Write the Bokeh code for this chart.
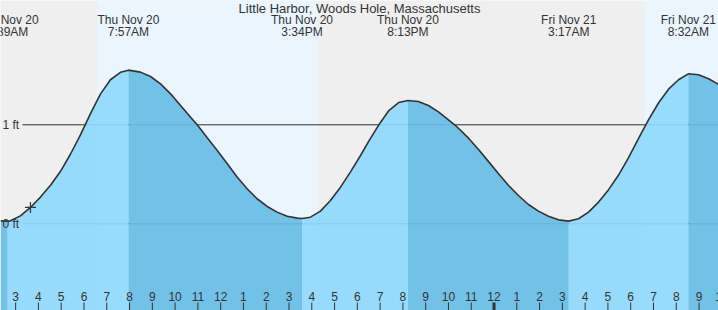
from bokeh.plotting import figure
from bokeh.models import Range1d, ColumnDataSource
from bokeh.core.properties import value
from bokeh.embed import file_html
from bokeh.resources import INLINE

# ---------------- data (hours since Thu Nov 20 00:00, heights in ft) ----------------
title_text = "Little Harbor, Woods Hole, Massachusetts"

tide_times = [2.34, 2.65, 2.77, 3.21, 3.65, 4.09, 4.53, 4.97, 5.41, 5.85, 6.29, 6.72,
              7.16, 7.60, 7.95, 8.48, 8.92, 9.36, 9.80, 10.24, 10.68, 10.97, 11.41,
              11.85, 12.29, 12.73, 13.16, 13.60, 14.04, 14.48, 14.92, 15.36, 15.57,
              15.94, 16.38, 16.82, 17.26, 17.70, 18.14, 18.49, 18.93, 19.37, 19.81,
              20.22, 20.68, 21.12, 21.56, 22.00, 22.30, 22.88, 23.32, 23.76, 24.20,
              24.64, 25.07, 25.51, 25.95, 26.39, 26.83, 27.28, 27.71, 28.15, 28.59,
              29.03, 29.46, 29.90, 30.34, 30.78, 31.22, 31.66, 32.10, 32.53, 32.98,
              33.42, 33.86]
tide_heights = [0.030, 0.027, 0.030, 0.080, 0.165, 0.270, 0.390, 0.530, 0.705, 0.900,
                1.115, 1.310, 1.455, 1.530, 1.552, 1.532, 1.488, 1.414, 1.313, 1.195,
                1.077, 1.000, 0.869, 0.741, 0.606, 0.471, 0.354, 0.253, 0.175, 0.118,
                0.077, 0.057, 0.054, 0.067, 0.128, 0.236, 0.370, 0.525, 0.690, 0.830,
                0.995, 1.140, 1.225, 1.246, 1.236, 1.195, 1.130, 1.050, 0.995, 0.865,
                0.750, 0.628, 0.505, 0.387, 0.286, 0.195, 0.128, 0.077, 0.040, 0.027,
                0.051, 0.118, 0.219, 0.345, 0.490, 0.665, 0.860, 1.050, 1.220, 1.360,
                1.455, 1.515, 1.505, 1.465, 1.407]

event_times = [2.65, 7.95, 15.57, 20.22, 27.28, 32.53]
event_kinds = ["L", "H", "L", "H", "L", "H"]
event_days = ["Thu Nov 20", "Thu Nov 20", "Thu Nov 20", "Thu Nov 20", "Fri Nov 21", "Fri Nov 21"]
event_clock = ["2:39AM", "7:57AM", "3:34PM", "8:13PM", "3:17AM", "8:32AM"]

sunrise_times = [6.58, 30.61]
sunset_times = [16.24, 40.23]

now_time = 3.65
now_height = 0.165

hour_ticks = list(range(3, 35))
hour_labels = ["3", "4", "5", "6", "7", "8", "9", "10", "11", "12", "1", "2", "3", "4",
               "5", "6", "7", "8", "9", "10", "11", "12", "1", "2", "3", "4", "5", "6",
               "7", "8", "9", "10"]

ft_levels = [0, 1]
ft_labels = ["0 ft", "1 ft"]

# ---------------- layout ----------------
W, H = 718, 310
PX_PER_HR = 22.78
PX_PER_FT = 99.0
ZERO_PX = 223.3
X0 = 2.335
X1 = X0 + W / PX_PER_HR
Y0 = -(H - ZERO_PX) / PX_PER_FT
Y1 = ZERO_PX / PX_PER_FT


def ypx(py):
    return (ZERO_PX - py) / PX_PER_FT


def xpx(px):
    return X0 + px / PX_PER_HR


FONT = value("Liberation Sans")
TXT = "#333333"

p = figure(width=W, height=H, x_range=Range1d(X0, X1), y_range=Range1d(Y0, Y1),
           output_backend="svg", toolbar_location=None, min_border=0,
           x_axis_location=None, y_axis_location=None,
           background_fill_color="#efefef", border_fill_color="#efefef",
           outline_line_color=None)
p.grid.visible = False

# daylight bands
p.quad(left=sunrise_times, right=sunset_times, bottom=Y0, top=Y1,
       fill_color="#eaf5fe", line_color=None)

# foot reference lines (under the translucent water)
p.segment(x0=xpx(22), x1=X1, y0=ft_levels, y1=ft_levels, line_color="#333333", line_width=1)

# water fill split at tide events: rising light, falling dark
bounds = [tide_times[0]] + event_times + [tide_times[-1]]
for a, b in zip(bounds[:-1], bounds[1:]):
    xs = [t for t in tide_times if a <= t <= b]
    ys = [h for t, h in zip(tide_times, tide_heights) if a <= t <= b]
    falling = (a in event_times and event_kinds[event_times.index(a)] == "H") or \
              (b in event_times and event_kinds[event_times.index(b)] == "L")
    color = "#67bde5" if falling else "#8fd9fd"
    p.varea(x=xs, y1=Y0, y2=ys, fill_color=color, fill_alpha=0.92)

# tide curve
p.line(tide_times, tide_heights, line_color="#333333", line_width=1.6)

# current time marker
p.scatter([now_time], [now_height], marker="cross", size=11, line_color="#333333", line_width=1.2)

# ft labels
p.text(x=[xpx(2)] * 2, y=ft_levels, text=ft_labels, text_align="left", text_baseline="middle",
       text_font=FONT, text_font_size="12px", text_color=TXT)

# hour ticks
tick_src = ColumnDataSource(dict(x=hour_ticks,
                                 w=[3 if h == 24 else 1 for h in hour_ticks]))
p.segment(x0="x", x1="x", y0=ypx(302), y1=ypx(311), line_width="w", line_color="#333333",
          source=tick_src)
p.text(x=hour_ticks, y=ypx(295.5), text=hour_labels, text_align="center", text_baseline="middle",
       text_font=FONT, text_font_size="12px", text_color=TXT)

# event labels
p.text(x=event_times, y=ypx(19.5), text=event_days, text_align="center", text_baseline="middle",
       text_font=FONT, text_font_size="12px", text_color=TXT)
p.text(x=event_times, y=ypx(31.5), text=event_clock, text_align="center", text_baseline="middle",
       text_font=FONT, text_font_size="12px", text_color=TXT)

# title
p.text(x=[xpx(359)], y=[ypx(8)], text=[title_text], text_align="center", text_baseline="middle",
       text_font=FONT, text_font_size="13px", text_color=TXT)

open("out.html", "w").write(file_html(p, INLINE))
